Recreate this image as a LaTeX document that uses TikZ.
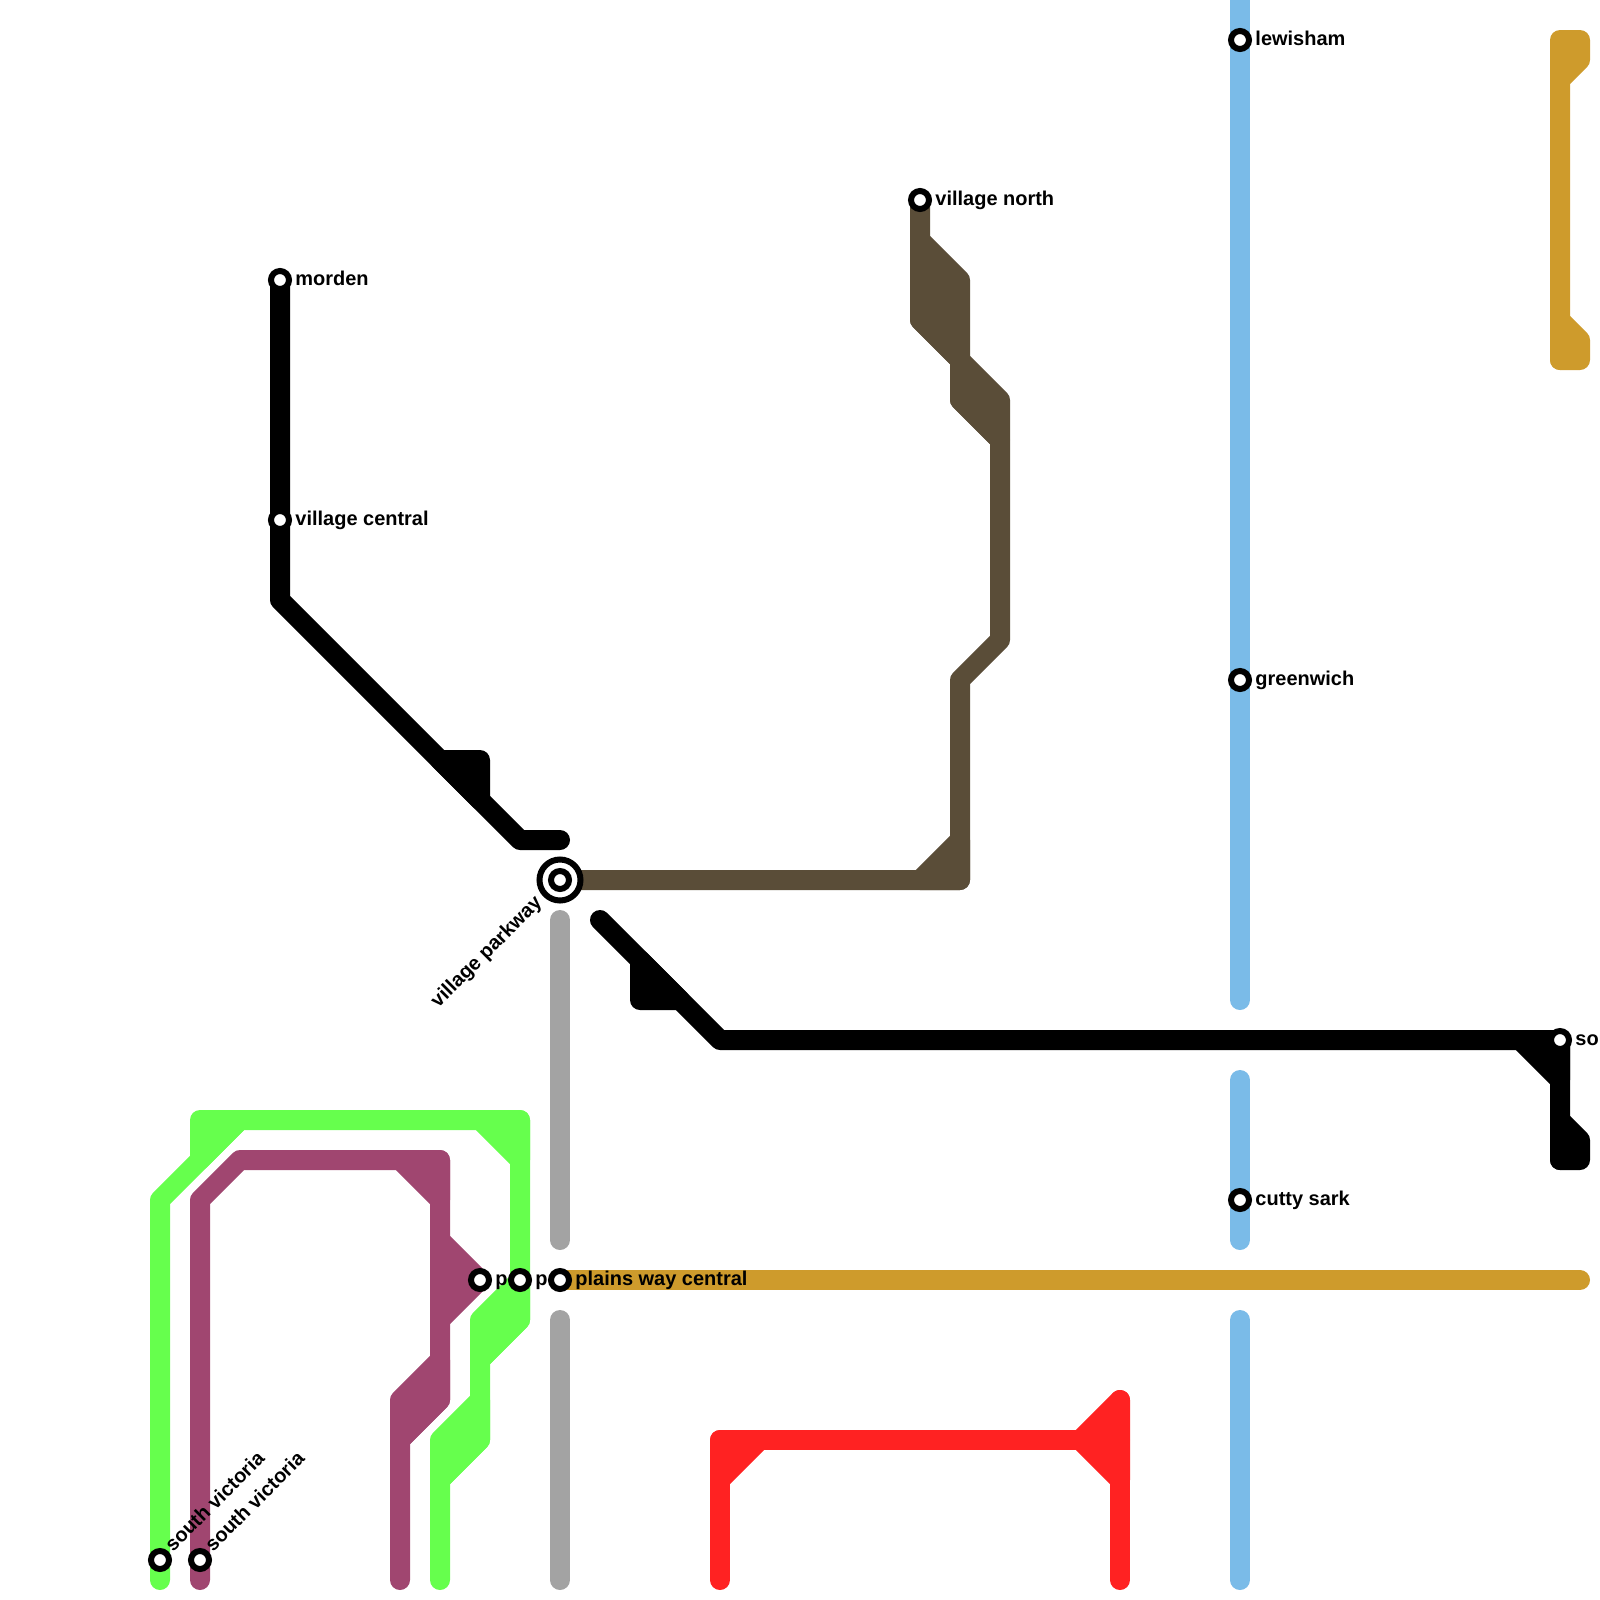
\documentclass[tikz,border=0pt]{standalone}
\usepackage{fontspec}
\setmainfont{Liberation Sans}
\definecolor{lineblack}{HTML}{000000}
\definecolor{linebrown}{HTML}{5A4D38}
\definecolor{linegold}{HTML}{CE9B2C}
\definecolor{lineblue}{HTML}{7ABBE8}
\definecolor{linegrey}{HTML}{A3A3A3}
\definecolor{linered}{HTML}{FF2222}
\definecolor{linegreen}{HTML}{66FF4D}
\definecolor{linepurple}{HTML}{A04670}
\tikzset{
  track/.style={line width=0.5cm, line cap=round, line join=round, draw=#1, fill=none},
  blob/.style={line width=0.5cm, line cap=round, line join=round, draw=#1, fill=#1},
  station/.style={circle, draw=black, fill=white, line width=0.15cm, minimum size=0.45cm, inner sep=0pt},
  bigstation/.style={circle, draw=black, fill=white, line width=0.15cm, minimum size=1.025cm, inner sep=0pt},
  stationlabel/.style={inner sep=0pt, font=\fontsize{14.2pt}{17pt}\selectfont\bfseries}
}
\begin{document}
\begin{tikzpicture}[x=1cm, y=-1cm]
    \clip (0,0) rectangle (40,40);
    % stops
    \coordinate (lewishamstop) at (31,1);
    \coordinate (greenwichstop) at (31,17);
    \coordinate (cuttystop) at (31,30);
    \coordinate (mordenstop) at (7,7);
    \coordinate (parkwaystop) at (14,22);
    \coordinate (northstop) at (23,5);
    \coordinate (plainsstop) at (14,32);
    % black
    \draw[track=lineblack] (mordenstop) -- (7,15) -- (13,21) -- (14,21);
    \draw[blob=lineblack] (11,19) -- (12,19) -- (12,20) -- cycle;
    \draw[track=lineblack] (15,23) -- (18,26) -- (39,26) -- (39,29);
    \draw[blob=lineblack] (16,24) -- (16,25) -- (17,25) -- cycle;
    \draw[blob=lineblack] (38,26) -- (39,26) -- (39,27) -- cycle;
    \draw[blob=lineblack] (39,28) -- (39.5,28.5) -- (39.5,29) -- (39,29) -- cycle;
    % brown
    \draw[track=linebrown] (parkwaystop) -- (24,22) -- (24,17) -- (25,16) -- (25,11) -- (24,10) -- (24,9) -- (23,8) -- (northstop);
    \draw[blob=linebrown] (23,6) -- (24,7) -- (24,9) -- (23,8) -- cycle;
    \draw[blob=linebrown] (24,9) -- (25,10) -- (25,11) -- (24,10) -- cycle;
    \draw[blob=linebrown] (23,22) -- (24,21) -- (24,22) -- cycle;
    % gold
    \draw[track=linegold] (plainsstop) -- (39.5,32);
    \draw[blob=linegold] (39,9) -- (39,1) -- (39.5,1) -- (39.5,1.5) -- (39,2) -- cycle;
    \draw[blob=linegold] (39,8) -- (39.5,8.5) -- (39.5,9) -- (39,9) -- cycle;
    % blue
    \draw[track=lineblue] (31,-1) -- (lewishamstop) -- (greenwichstop) -- (31,25);
    \draw[track=lineblue] (31,27) -- (cuttystop) -- (31,31);
    \draw[track=lineblue] (31,33) -- (31,39.5);
    % grey
    \draw[track=linegrey] (14,23) -- (14,31);
    \draw[track=linegrey] (14,33) -- (14,39.5);
    % red
    \draw[track=linered] (18,39.5) -- (18,36) -- (28,36);
    \draw[track=linered] (28,35) -- (28,39.5);
    \draw[blob=linered] (18,36) -- (19,36) -- (18,37) -- cycle;
    \draw[blob=linered] (27,36) -- (28,35) -- (28,37) -- cycle;
    % green
    \draw[track=linegreen] (4,39.5) -- (4,30) -- (6,28) -- (13,28) -- (13,33) -- (12,34) -- (12,36) -- (11,37) -- (11,39.5);
    \draw[blob=linegreen] (5,29) -- (5,28) -- (6,28) -- cycle;
    \draw[blob=linegreen] (12,28) -- (13,28) -- (13,29) -- cycle;
    \draw[blob=linegreen] (13,32) -- (13,33) -- (12,34) -- (12,33) -- cycle;
    \draw[blob=linegreen] (12,35) -- (12,36) -- (11,37) -- (11,36) -- cycle;
    % purple
    \draw[track=linepurple] (5,39.5) -- (5,30) -- (6,29) -- (11,29) -- (11,35) -- (10,36) -- (10,39.5);
    \draw[blob=linepurple] (10,29) -- (11,29) -- (11,30) -- cycle;
    \draw[blob=linepurple] (11,31) -- (12,32) -- (11,33) -- cycle;
    \draw[blob=linepurple] (11,34) -- (11,35) -- (10,36) -- (10,35) -- cycle;
    % stations
    \node[bigstation] (parkway) at (parkwaystop) {};
    \foreach \name/\pos in {lewisham/{31,1}, greenwich/{31,17}, cutty/{31,30}, morden/{7,7}, central/{7,13},
      north/{23,5}, plains/{14,32}, plainsb/{13,32}, plainsc/{12,32}, victoriaa/{4,39}, victoriab/{5,39},
      parkwayin/{14,22}, southend/{39,26}} {
      \node[station] (\name) at (\pos) {};
    }
    % labels
    \foreach \name/\txt in {lewisham/lewisham, greenwich/greenwich, cutty/cutty sark, morden/morden,
      central/village central, north/village north, plains/plains way central, plainsb/p, plainsc/p, southend/sou} {
      \node[stationlabel, anchor=base west, xshift=0.38cm, yshift=-0.135cm] (\name label) at (\name) {\txt};
    }
    \node[stationlabel, rotate=45, anchor=base west, xshift=0.36cm, yshift=-0.1cm] (victoriaalabel) at (victoriaa) {south victoria};
    \node[stationlabel, rotate=45, anchor=base west, xshift=0.36cm, yshift=-0.1cm] (victoriablabel) at (victoriab) {south victoria};
    \node[stationlabel, rotate=45, anchor=base east, xshift=-0.72cm, yshift=-0.12cm] (parkwaylabel) at (parkway) {village parkway};
\end{tikzpicture}
\end{document}
